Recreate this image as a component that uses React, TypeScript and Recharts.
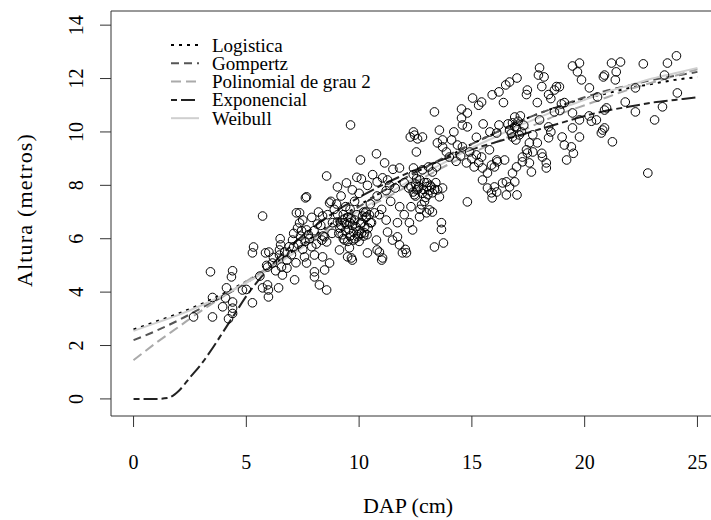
import { ComposedChart, Scatter, Line, XAxis, YAxis, ReferenceArea, Legend } from "recharts";

const FONT = '"Liberation Serif", "Times New Roman", serif';

// observed trees: [DAP (cm), altura (m)]
const observed: [number, number][] = [
  [2.66, 3.07], [3.41, 4.76], [3.5, 3.07], [3.5, 3.8], [3.95, 3.45], [4.08, 3.78], [4.12, 4.16], [4.21, 3.0],
  [4.34, 4.57], [4.39, 4.8], [4.39, 3.63], [4.39, 3.4], [4.39, 3.2], [4.83, 4.08], [5.0, 4.1],
  [5.27, 3.6], [5.27, 5.47], [5.32, 5.69], [5.72, 6.85], [5.72, 4.16], [5.85, 5.47], [5.98, 4.08], [5.98, 3.82],
  [5.94, 4.94], [5.94, 4.27], [6.16, 5.09], [6.43, 4.16], [6.47, 5.39], [6.47, 5.58], [6.52, 5.77], [6.56, 4.94],
  [6.6, 4.64], [7.05, 5.95], [7.14, 4.46], [7.22, 6.97], [7.27, 6.4], [7.36, 6.59], [7.36, 6.97], [7.58, 5.32],
  [7.67, 5.09], [5.6, 4.6], [5.9, 5.0], [6.2, 5.3], [6.3, 4.8], [6.7, 5.5], [6.8, 5.2], [6.9, 5.7], [7.0, 5.4],
  [7.1, 6.2], [7.3, 5.8], [7.4, 6.1], [7.5, 5.6], [6.0, 5.5], [6.5, 6.0], [6.8, 4.9], [7.2, 5.1],
  [7.1, 5.7], [7.45, 6.3], [7.75, 6.15], [8.15, 6.55], [8.35, 5.95], [7.6, 5.9],
  [7.62, 7.53], [7.67, 7.57], [8.02, 4.57], [8.02, 4.76], [8.24, 4.27], [8.38, 6.85], [8.47, 4.83], [8.56, 4.08],
  [8.56, 8.35], [8.69, 5.09], [8.69, 7.34], [9.04, 7.94], [9.13, 5.58], [9.62, 10.26], [9.66, 5.28], [7.9, 5.7],
  [8.02, 5.39], [8.38, 5.32], [8.47, 6.07], [8.56, 5.88], [7.5, 6.7], [7.67, 6.33], [9.35, 5.95], [9.57, 5.66],
  [9.49, 5.32], [9.7, 5.2], [9.93, 6.07], [8.82, 6.6], [9.04, 6.63], [9.26, 6.7], [9.44, 8.09], [9.7, 7.83],
  [8.75, 7.4], [9.1, 6.2], [9.2, 6.5], [9.3, 6.0], [9.4, 6.3], [9.5, 6.8], [9.6, 6.1], [9.7, 6.5], [9.8, 6.0],
  [9.9, 6.9], [10.0, 6.3], [10.1, 6.6], [10.2, 6.1], [10.3, 6.8], [10.4, 6.4], [9.5, 5.9], [9.8, 6.7],
  [10.0, 5.9], [10.2, 7.0], [9.3, 6.9], [9.6, 7.1], [10.5, 6.6], [7.8, 6.0], [8.0, 6.3], [8.1, 5.8], [8.3, 6.5],
  [8.4, 6.1], [8.6, 6.9], [8.8, 6.2], [8.9, 7.1], [7.9, 6.8], [8.2, 7.0], [9.0, 7.3], [9.2, 7.6], [9.4, 7.2],
  [9.8, 7.4], [10.0, 7.7], [9.9, 8.3],
  [9.15, 6.4], [9.25, 6.15], [9.45, 6.55], [9.55, 6.35], [9.65, 6.75], [9.75, 6.25], [9.85, 6.45], [9.95, 6.15],
  [10.05, 6.55], [10.15, 6.85], [10.25, 6.45], [10.35, 6.15], [9.35, 6.6], [9.75, 5.95], [10.45, 6.9],
  [9.05, 6.9], [9.6, 6.6], [10.1, 6.2],
  [10.37, 5.47], [10.9, 5.5], [11.04, 5.28], [11.26, 6.25], [11.79, 5.77], [12.1, 5.47], [10.06, 8.95],
  [10.77, 9.18], [11.13, 8.84], [11.79, 8.65], [10.37, 8.0], [10.8, 8.13], [11.26, 8.2], [11.04, 8.28],
  [11.35, 8.0], [10.1, 8.24], [10.77, 5.95], [10.8, 5.58], [11.0, 5.2], [11.48, 5.95], [11.7, 6.07],
  [11.92, 5.47], [12.05, 5.6], [10.24, 6.22], [10.33, 6.82], [10.55, 6.6], [10.68, 6.97], [11.2, 6.7],
  [10.5, 7.3], [10.8, 7.6], [11.0, 7.1], [11.2, 7.8], [11.4, 7.4], [11.6, 7.9], [11.8, 7.2], [12.0, 8.1],
  [10.6, 8.4], [11.5, 8.6], [10.3, 7.0], [10.9, 6.9], [11.7, 6.6], [12.0, 6.9],
  [12.41, 10.0], [12.46, 9.88], [12.27, 9.81], [12.59, 9.74], [12.81, 9.81], [12.54, 9.25], [12.41, 8.65],
  [12.81, 8.58], [13.08, 8.69], [13.43, 8.69], [13.34, 10.75], [13.56, 10.07], [13.47, 9.59], [13.7, 9.7],
  [13.65, 6.6], [13.34, 5.69], [13.74, 5.84], [13.65, 6.35], [12.2, 7.9], [12.4, 7.75], [12.6, 7.85],
  [12.8, 7.7], [13.0, 7.95], [13.1, 7.8], [12.5, 8.05], [12.9, 8.1], [12.54, 7.83], [13.2, 7.94],
  [13.48, 7.83], [13.7, 7.9], [12.68, 6.82], [12.99, 6.97], [13.25, 7.0], [12.77, 7.27], [13.12, 7.08],
  [12.23, 6.6], [12.37, 6.33], [12.4, 8.4], [12.7, 8.2], [13.0, 8.1], [12.5, 7.6], [12.9, 7.4], [12.3, 7.2],
  [12.7, 7.1], [13.25, 7.72], [13.56, 7.57], [13.25, 8.5],
  [12.3, 7.95], [12.45, 7.65], [12.65, 7.95], [12.85, 7.85], [13.05, 7.65], [13.15, 8.0], [13.35, 7.85],
  [12.55, 8.25], [12.95, 7.55], [13.4, 8.1],
  [14.54, 10.86], [14.8, 10.71], [14.54, 10.52], [14.58, 10.26], [14.8, 10.19], [15.03, 11.27], [15.43, 11.12],
  [15.3, 11.0], [15.9, 11.39], [16.2, 11.5], [16.5, 11.76], [16.67, 11.87], [13.7, 9.44], [13.87, 9.25],
  [14.0, 9.06], [14.58, 9.44], [14.9, 9.25], [15.2, 9.14], [15.78, 9.33], [14.36, 9.51], [15.47, 8.65],
  [15.87, 8.76], [16.13, 8.88], [14.76, 8.84], [15.1, 8.69], [14.8, 7.38], [15.69, 7.9], [16.0, 7.94],
  [15.9, 7.53], [15.69, 8.46], [15.47, 8.2], [15.87, 7.72], [16.1, 7.75], [15.43, 9.06], [14.2, 10.0],
  [14.1, 9.7], [15.5, 10.3], [15.2, 9.8], [15.8, 10.0], [14.3, 8.9], [14.5, 9.1], [15.0, 9.0], [15.3, 8.85],
  [16.4, 11.1], [17.0, 12.02], [17.46, 11.57], [17.42, 11.4], [17.9, 11.1], [18.0, 12.4], [17.95, 12.13],
  [18.1, 11.7], [16.8, 10.34], [16.98, 10.15], [16.67, 10.07], [17.1, 9.89], [16.8, 9.81], [16.9, 10.56],
  [16.2, 10.26], [16.1, 9.96], [18.0, 10.45], [17.7, 9.89], [17.55, 9.59], [17.9, 9.59], [17.7, 9.25],
  [17.46, 9.21], [17.24, 8.88], [16.98, 8.69], [16.8, 8.46], [16.45, 8.95], [16.1, 8.95], [16.0, 8.69],
  [17.64, 8.5], [16.9, 8.13], [16.53, 8.13], [16.36, 8.09], [16.53, 7.64], [17.0, 7.64], [16.67, 7.94],
  [17.24, 9.06], [17.55, 8.84], [17.42, 9.33], [18.2, 12.06],
  [16.6, 10.3], [16.75, 9.95], [16.9, 10.2], [17.05, 10.4], [17.2, 10.0], [17.3, 10.25], [16.95, 9.7], [17.15, 10.6],
  [18.3, 8.65], [18.13, 9.06], [18.3, 8.84], [18.4, 11.4], [18.5, 11.25], [18.66, 11.57], [18.75, 11.7],
  [18.97, 11.05], [18.66, 10.75], [19.1, 11.1], [18.9, 10.8], [18.4, 10.19], [18.5, 10.0], [18.4, 9.78],
  [19.0, 9.81], [19.1, 9.51], [18.1, 9.2], [19.5, 9.2], [19.2, 8.95], [19.77, 12.58], [19.46, 12.47],
  [19.68, 12.25], [19.86, 11.95], [20.21, 11.65], [19.46, 10.71], [19.77, 10.45], [19.46, 10.15],
  [19.77, 9.81], [19.41, 9.44], [18.88, 11.69],
  [20.83, 12.06], [20.57, 11.31], [20.97, 10.9], [20.88, 10.15], [20.74, 9.96], [21.23, 9.63], [20.52, 10.45],
  [21.19, 12.58], [21.59, 12.62], [21.4, 12.25], [21.36, 11.95], [22.25, 11.65], [22.25, 10.75], [22.6, 12.55],
  [23.1, 10.45], [23.54, 12.13], [23.67, 12.58], [24.07, 12.85], [24.11, 11.46], [22.8, 8.46], [20.88, 12.13],
  [23.45, 10.94], [21.8, 11.12], [20.88, 10.82], [20.2, 10.6], [20.3, 10.4], [20.8, 10.07],
];

// fitted curves
const dapCurve = [0, 1, 2, 3, 4, 5, 6, 7, 8, 9, 10, 11, 12, 13, 14, 15, 16, 17, 18, 19, 20, 21, 22, 23, 24, 25];
const logistica = [2.6, 2.9, 3.2, 3.55, 3.95, 4.4, 4.9, 5.5, 6.1, 6.7, 7.25, 7.75, 8.25, 8.7, 9.1, 9.55, 9.95, 10.35, 10.7, 11.0, 11.25, 11.45, 11.65, 11.8, 11.95, 12.05];
const gompertz = [2.2, 2.55, 2.95, 3.4, 3.85, 4.35, 4.9, 5.45, 6.05, 6.65, 7.2, 7.75, 8.25, 8.7, 9.15, 9.55, 9.95, 10.35, 10.7, 11.0, 11.3, 11.55, 11.75, 11.95, 12.1, 12.25];
const polinomial = [1.45, 2.1, 2.7, 3.3, 3.85, 4.4, 4.95, 5.5, 6.0, 6.5, 7.0, 7.45, 7.9, 8.35, 8.8, 9.2, 9.6, 9.95, 10.35, 10.7, 11.0, 11.3, 11.6, 11.85, 12.1, 12.35];
const weibull = [2.55, 2.85, 3.15, 3.5, 3.9, 4.35, 4.85, 5.4, 5.95, 6.5, 7.05, 7.55, 8.05, 8.5, 8.95, 9.4, 9.8, 10.2, 10.55, 10.9, 11.2, 11.5, 11.75, 12.0, 12.2, 12.4];
const dapExp = [0, 1, 1.5, 2, 2.5, 3, 3.5, 4, 4.5, 5, 5.5, 6, 7, 8, 9, 10, 11, 12, 13, 14, 15, 16, 17, 18, 19, 20, 21, 22, 23, 24, 25];
const exponencial = [0, 0, 0.03, 0.3, 0.8, 1.3, 1.9, 2.55, 3.2, 3.85, 4.4, 4.9, 5.75, 6.45, 7.05, 7.55, 8.0, 8.4, 8.75, 9.05, 9.35, 9.6, 9.85, 10.1, 10.35, 10.6, 10.8, 10.95, 11.1, 11.2, 11.3];

const xTicks = [0, 5, 10, 15, 20, 25];
const yTicks = [0, 2, 4, 6, 8, 10, 12, 14];

const toRows = (xs: number[], ys: number[]) => xs.map((x, i) => ({ x, y: ys[i] }));
const points = observed.map(([x, y]) => ({ x, y }));

const curves = [
  { name: "Logistica", data: toRows(dapCurve, logistica), stroke: "#000000", dash: "3 5" },
  { name: "Gompertz", data: toRows(dapCurve, gompertz), stroke: "#555555", dash: "8 5" },
  { name: "Polinomial de grau 2", data: toRows(dapCurve, polinomial), stroke: "#aaaaaa", dash: "10 5" },
  { name: "Exponencial", data: toRows(dapExp, exponencial), stroke: "#222222", dash: "6 4 14 4" },
  { name: "Weibull", data: toRows(dapCurve, weibull), stroke: "#cfcfcf", dash: undefined },
];

const XTick = (props: any) => (
  <text x={props.x} y={462} textAnchor="middle" dominantBaseline="central" fontFamily={FONT} fontSize={20} fill="#000">
    {props.payload.value}
  </text>
);

const YTick = (props: any) => (
  <text x={76} y={props.y} transform={`rotate(-90, 76, ${props.y})`} textAnchor="middle" dominantBaseline="central"
    fontFamily={FONT} fontSize={20} fill="#000">
    {props.payload.value}
  </text>
);

const LegendBox = () => (
  <svg width={440} height={130}>
    {curves.map((c, i) => {
      const y = 45 + i * 18.3;
      return (
        <g key={c.name}>
          <line x1={171} x2={199} y1={y} y2={y} stroke={c.stroke} strokeWidth={2} strokeDasharray={c.dash} />
          <text x={212} y={y} dominantBaseline="central" fontFamily={FONT} fontSize={19} fill="#000">{c.name}</text>
        </g>
      );
    })}
  </svg>
);

const Circle = (props: any) => (
  <circle cx={props.cx} cy={props.cy} r={4.3} fill="none" stroke="#000" strokeWidth={1} />
);

export default function App() {
  return (
    <div style={{ position: "absolute", left: 0, top: 0, width: 711, height: 520, overflow: "hidden", background: "#fff" }}>
      <ComposedChart width={722} height={520} margin={{ top: 11, right: 2, bottom: 0, left: 0 }}>
        <XAxis
          dataKey="x"
          type="number"
          domain={[-1, 26]}
          allowDataOverflow
          ticks={xTicks}
          tick={XTick}
          tickSize={11}
          tickLine={{ stroke: "#333" }}
          axisLine={false}
          height={104}
          label={{ content: () => (
            <text x={408} y={505} textAnchor="middle" dominantBaseline="central" fontFamily={FONT} fontSize={22} fill="#000">DAP (cm)</text>
          ) }}
        />
        <YAxis
          type="number"
          domain={[-0.64, 14.53]}
          allowDataOverflow
          ticks={yTicks}
          tick={YTick}
          tickSize={11}
          tickLine={{ stroke: "#333" }}
          axisLine={false}
          width={111}
          label={{ content: () => (
            <text x={24} y={210} transform="rotate(-90, 24, 210)" textAnchor="middle" dominantBaseline="central"
              fontFamily={FONT} fontSize={22} letterSpacing={1.2} fill="#000">Altura (metros)</text>
          ) }}
        />
        <ReferenceArea x1={-1} x2={26} y1={-0.64} y2={14.53} fill="none" stroke="#333" strokeWidth={1} ifOverflow="visible" />
        <Scatter data={points} dataKey="y" shape={Circle} isAnimationActive={false} />
        {curves.map((c) => (
          <Line
            key={c.name}
            data={c.data}
            dataKey="y"
            type="monotone"
            stroke={c.stroke}
            strokeWidth={2}
            strokeDasharray={c.dash}
            dot={false}
            activeDot={false}
            isAnimationActive={false}
          />
        ))}
        <Legend content={LegendBox} layout="horizontal" align="center" verticalAlign="middle"
          wrapperStyle={{ left: 0, top: 0, width: 440, height: 130 }} />
      </ComposedChart>
    </div>
  );
}
